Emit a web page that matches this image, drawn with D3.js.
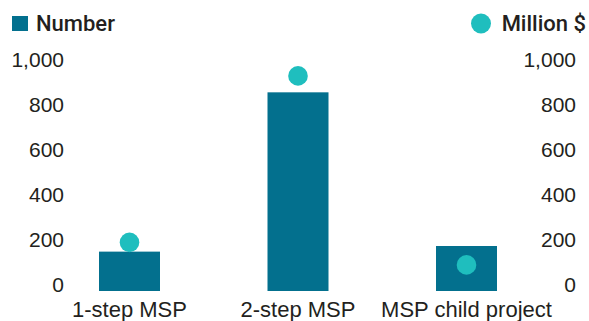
<!DOCTYPE html>
<html>
<head>
<meta charset="utf-8">
<script src="https://cdn.jsdelivr.net/npm/d3@7"></script>
<style>
  html, body { margin: 0; padding: 0; background: #fff; }
  svg { display: block; font-family: Roboto, "Noto Sans", sans-serif; }
</style>
</head>
<body>
<svg id="chart" width="589" height="321"></svg>
<script>
// Project counts (bars, left axis) and financing (dots, right axis)
const categories = ["1-step MSP", "2-step MSP", "MSP child project"];
const numberValues = [175, 883, 200];
const millionValues = [216, 956, 116];
const tickValues = [0, 200, 400, 600, 800, 1000];

const barColor = "#03708e";
const dotColor = "#1fbebe";
const textColor = "#231f20";

const svg = d3.select("#chart");

const x = d3.scaleBand()
  .domain(categories)
  .range([45.25, 550.75])
  .paddingInner(0.638)
  .paddingOuter(0.319);

const yLeft = d3.scaleLinear().domain([0, 1000]).range([291, 66]);
const yRight = d3.scaleLinear().domain([0, 1000]).range([291, 66]);

// Left axis (Number)
const leftAxis = svg.append("g")
  .attr("transform", "translate(64,0)")
  .call(d3.axisLeft(yLeft).tickValues(tickValues).tickFormat(d3.format(",")).tickSize(0).tickPadding(0));
leftAxis.select(".domain").remove();
leftAxis.selectAll("text")
  .attr("dy", 0)
  .attr("fill", textColor)
  .style("font-size", "21px");

// Right axis (Million $)
const rightAxis = svg.append("g")
  .attr("transform", "translate(576,0)")
  .call(d3.axisRight(yRight).tickValues(tickValues).tickFormat(d3.format(",")).tickSize(0).tickPadding(0));
rightAxis.select(".domain").remove();
rightAxis.selectAll("text")
  .attr("dy", 0)
  .attr("text-anchor", "end")
  .attr("fill", textColor)
  .style("font-size", "21px");

// Bars
svg.append("g").selectAll("rect")
  .data(categories)
  .join("rect")
  .attr("x", d => x(d))
  .attr("width", x.bandwidth())
  .attr("y", (d, i) => yLeft(numberValues[i]))
  .attr("height", (d, i) => yLeft(0) - yLeft(numberValues[i]))
  .attr("fill", barColor);

// Dots
svg.append("g").selectAll("circle")
  .data(categories)
  .join("circle")
  .attr("cx", d => x(d) + x.bandwidth() / 2)
  .attr("cy", (d, i) => yRight(millionValues[i]))
  .attr("r", 9.8)
  .attr("fill", dotColor);

// Category labels
const xAxis = svg.append("g")
  .attr("transform", "translate(0,291)")
  .call(d3.axisBottom(x).tickSize(0).tickPadding(0));
xAxis.select(".domain").remove();
xAxis.selectAll("text")
  .attr("y", 0)
  .attr("dy", 26)
  .attr("fill", textColor)
  .style("font-size", "22px");

// Legend
const legend = svg.append("g");
legend.append("rect")
  .attr("x", 12).attr("y", 16).attr("width", 16).attr("height", 15)
  .attr("fill", barColor);
legend.append("text")
  .attr("x", 36).attr("y", 31)
  .attr("fill", textColor)
  .style("font-size", "22px").style("font-weight", 500)
  .text("Number");
legend.append("circle")
  .attr("cx", 481).attr("cy", 23.5).attr("r", 10)
  .attr("fill", dotColor);
legend.append("text")
  .attr("x", 586).attr("y", 31)
  .attr("text-anchor", "end")
  .attr("fill", textColor)
  .style("font-size", "22px").style("font-weight", 500)
  .text("Million $");
</script>
</body>
</html>
